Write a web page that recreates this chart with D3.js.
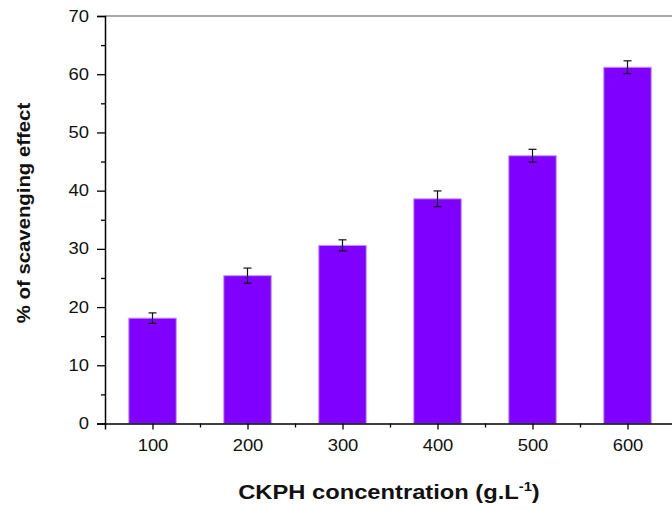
<!DOCTYPE html>
<html>
<head>
<meta charset="utf-8">
<script src="https://cdn.jsdelivr.net/npm/d3@7"></script>
<style>
  body { margin: 0; background: #fff; }
  text { font-family: "Liberation Sans", Arial, sans-serif; }
</style>
</head>
<body>
<div id="chart"></div>
<script>
const concentrations = [100, 200, 300, 400, 500, 600];
const scavenging = [18.1, 25.4, 30.6, 38.6, 46.0, 61.2];
const errors = [0.9, 1.3, 0.95, 1.35, 1.1, 1.1];
const yTicks = [0, 10, 20, 30, 40, 50, 60, 70];
const xTicks = [100, 200, 300, 400, 500, 600];

const width = 672, height = 510;
const margin = {top: 16, right: -3, bottom: 86.5, left: 105};
const innerWidth = width - margin.left - margin.right;
const innerHeight = height - margin.top - margin.bottom;

const svg = d3.select("#chart").append("svg")
    .attr("width", width)
    .attr("height", height);

const g = svg.append("g")
    .attr("transform", "translate(" + margin.left + "," + margin.top + ")");

const x = d3.scaleLinear().domain([50, 650]).range([0, innerWidth]);
const y = d3.scaleLinear().domain([0, 70]).range([innerHeight, 0]);
const barW = x(125) - x(75);

// bars
g.selectAll(".bar")
    .data(concentrations)
    .enter()
    .append("rect")
    .attr("class", "bar")
    .attr("x", d => x(d) - barW / 2)
    .attr("y", (d, i) => y(scavenging[i]))
    .attr("width", barW)
    .attr("height", (d, i) => y(0) - y(scavenging[i]))
    .attr("fill", "#8000ff")
    .attr("stroke", "#c59cff")
    .attr("stroke-width", 1);

// error bars
const err = g.selectAll(".err")
    .data(concentrations)
    .enter()
    .append("g")
    .attr("class", "err")
    .attr("stroke", "#111")
    .attr("stroke-width", 1.2);
err.append("line")
    .attr("x1", d => x(d)).attr("x2", d => x(d))
    .attr("y1", (d, i) => y(scavenging[i] + errors[i]))
    .attr("y2", (d, i) => y(scavenging[i] - errors[i]));
err.append("line")
    .attr("x1", d => x(d) - 4).attr("x2", d => x(d) + 4)
    .attr("y1", (d, i) => y(scavenging[i] + errors[i]))
    .attr("y2", (d, i) => y(scavenging[i] + errors[i]));
err.append("line")
    .attr("x1", d => x(d) - 4).attr("x2", d => x(d) + 4)
    .attr("y1", (d, i) => y(scavenging[i] - errors[i]))
    .attr("y2", (d, i) => y(scavenging[i] - errors[i]));

// top frame
g.append("line")
    .attr("x1", 0).attr("x2", innerWidth)
    .attr("y1", 0).attr("y2", 0)
    .attr("stroke", "#555")
    .attr("stroke-width", 1.2);

// minor ticks
const yMinor = d3.axisLeft(y).tickValues(d3.range(5, 70, 10)).tickSize(4);
g.append("g").attr("class", "y minor").call(yMinor);
const xMinor = d3.axisBottom(x).tickValues(d3.range(150, 600, 100)).tickSize(4);
g.append("g").attr("class", "x minor").attr("transform", "translate(0," + innerHeight + ")").call(xMinor);
g.selectAll(".minor .domain, .minor .tick text").remove();

// major axes
const yAxis = d3.axisLeft(y).tickValues(yTicks).tickSize(8).tickPadding(8);
g.append("g").attr("class", "y axis").call(yAxis);
const xAxis = d3.axisBottom(x).tickValues(xTicks).tickSize(6).tickPadding(10);
g.append("g").attr("class", "x axis")
    .attr("transform", "translate(0," + innerHeight + ")")
    .call(xAxis);

g.selectAll(".axis .domain").attr("stroke", "#000").attr("stroke-width", 1.5);
g.selectAll(".axis .tick line, .minor .tick line").attr("stroke", "#000").attr("stroke-width", 1.3);
g.selectAll(".axis .tick text")
    .attr("font-size", 16)
    .style("font-size", "16px")
    .attr("fill", "#111");
// the labels in the picture are drawn a little wide
g.selectAll(".x.axis .tick text").attr("transform", "scale(1.15,1)");
g.selectAll(".y.axis .tick text").attr("x", 0).attr("transform", "translate(-16,0) scale(1.15,1)");

// axis titles
const xTitle = svg.append("text")
    .attr("transform", "translate(389,499) scale(1.13,1)")
    .attr("text-anchor", "middle")
    .style("font-size", "21px")
    .style("font-weight", "bold")
    .attr("fill", "#111");
xTitle.append("tspan").text("CKPH concentration (g.L");
xTitle.append("tspan").attr("dy", -8).style("font-size", "13px").text("-1");
xTitle.append("tspan").attr("dy", 8).text(")");

svg.append("text")
    .attr("transform", "translate(30,213) rotate(-90) scale(1.1,1)")
    .attr("text-anchor", "middle")
    .style("font-size", "18.5px")
    .style("font-weight", "bold")
    .attr("fill", "#111")
    .text("% of scavenging effect");
</script>
</body>
</html>
